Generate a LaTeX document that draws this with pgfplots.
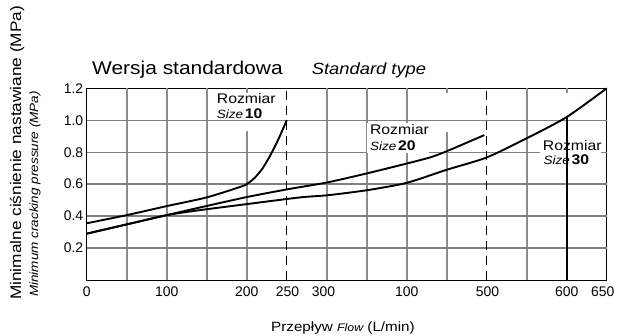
\documentclass[border=0pt]{standalone}
\usepackage{fontspec}
\setmainfont{Liberation Sans}
\newfontfamily\wide[FakeStretch=1.13]{Liberation Sans}
\usepackage{pgfplots}
\pgfplotsset{compat=1.18}
\definecolor{gridc}{gray}{0.5}
\definecolor{gridv}{gray}{0.55}

\begin{document}
\begin{tikzpicture}
\useasboundingbox (0,0) rectangle (618bp,336bp);
\begin{axis}[
  at={(86.7bp,56bp)}, anchor=south west, scale only axis,
  width=520bp, height=191.7bp,
  xmin=0, xmax=650, ymin=0, ymax=1.2,
  xtick={0,100,200,251,296,400,501,600,645},
  xticklabels={0,100,200,250,300,100,500,600,650},
  ytick={0.2,0.4,0.6,0.8,1.0,1.2},
  yticklabels={0.2,0.4,0.6,0.8,1.0,1.2},
  major tick length=0pt,
  tick label style={font=\fontsize{14}{16}\selectfont, text=black},
  xticklabel style={yshift=-3bp},
  xtick pos=bottom, ytick pos=left,
  axis line style={black, line width=1bp},
  clip=false,
  /pgf/number format/assume math mode=true,
]
% vertical grid
\draw[gridv, line width=1.7bp] (axis cs:50,0) -- (axis cs:50,1.2);
\draw[gridv, line width=1.7bp] (axis cs:100,0) -- (axis cs:100,1.2);
\draw[gridv, line width=1.7bp] (axis cs:150,0) -- (axis cs:150,1.2);
\draw[gridv, line width=1.7bp] (axis cs:300,0) -- (axis cs:300,1.2);
\draw[gridv, line width=1.7bp] (axis cs:350,0) -- (axis cs:350,1.2);
\draw[gridv, line width=1.7bp] (axis cs:400,0) -- (axis cs:400,1.2);
\draw[gridv, line width=1.7bp] (axis cs:550,0) -- (axis cs:550,1.2);
\draw[gridv, line width=1.7bp] (axis cs:200,0) -- (axis cs:200,0.93);
\draw[gridv, line width=1.7bp] (axis cs:200,1.17) -- (axis cs:200,1.2);
\draw[gridv, line width=1.7bp] (axis cs:450,0) -- (axis cs:450,0.925);
\draw[gridv, line width=1.7bp] (axis cs:450,1.17) -- (axis cs:450,1.2);
\draw[gridv, line width=1.7bp] (axis cs:600,1.17) -- (axis cs:600,1.2);
% horizontal grid
\pgfplotsinvokeforeach{0.2,0.4,0.6,0.8,1.0}{
  \addplot[gridc, line width=1.3bp, forget plot] coordinates {(0,#1) (650,#1)};
}
% max flow lines
\addplot[black, line width=1.3bp, dash pattern=on 9bp off 6bp] coordinates {(250,0) (250,1.2)};
\addplot[black, line width=1.3bp, dash pattern=on 9bp off 6bp] coordinates {(500,0) (500,1.2)};
% curves
\addplot[black, line width=1.9bp, smooth, tension=0.45] coordinates {
  (0,0.355) (50,0.406) (100,0.4625) (150,0.517) (192,0.583) (200,0.6)
  (210,0.64) (220,0.70) (230,0.785) (240,0.885) (250,1.0)};
\addplot[black, line width=1.9bp, smooth, tension=0.4] coordinates {
  (0,0.29) (50,0.348) (100,0.406) (141.6,0.454) (200,0.519) (250,0.567)
  (300,0.61) (350,0.667) (400,0.729) (429,0.767) (450,0.806) (497,0.907)};
\addplot[black, line width=1.9bp, smooth, tension=0.4] coordinates {
  (0,0.29) (50,0.348) (100,0.406) (141.6,0.4375) (200,0.475) (266.6,0.517)
  (302,0.531) (351,0.5625) (400,0.608) (450,0.69) (500,0.767) (550,0.887)
  (600,1.02) (650,1.2)};
% labels
\fill[white] (axis cs:350,0.795) rectangle (axis cs:428,0.985);
\fill[white] (axis cs:567,0.72) rectangle (axis cs:643,0.885);
\node[anchor=base west, inner sep=0, font=\wide\fontsize{14}{16}\selectfont] at (axis cs:162.5,1.106) {Rozmiar};
\node[anchor=base west, inner sep=0] at (axis cs:162.5,1.01) {{\wide\itshape\fontsize{12}{13}\selectfont Size}\,{\wide\bfseries\fontsize{14}{16}\selectfont 10}};
\node[anchor=base west, inner sep=0, font=\wide\fontsize{14}{16}\selectfont] at (axis cs:354,0.908) {Rozmiar};
\node[anchor=base west, inner sep=0] at (axis cs:354,0.8125) {{\wide\itshape\fontsize{12}{13}\selectfont Size}\,{\wide\bfseries\fontsize{14}{16}\selectfont 20}};
\node[anchor=base west, inner sep=0, font=\wide\fontsize{14}{16}\selectfont] at (axis cs:570,0.808) {Rozmiar};
\node[anchor=base west, inner sep=0] at (axis cs:571,0.725) {{\wide\itshape\fontsize{12}{13}\selectfont Size}\,{\wide\bfseries\fontsize{14}{16}\selectfont 30}};
\addplot[black, line width=1.6bp] coordinates {(600,0) (600,1.02)};
\end{axis}
\node[anchor=base west, inner sep=0, font=\wide\fontsize{18.6}{20}\selectfont] at (92bp,261bp) {Wersja standardowa};
\node[anchor=base west, inner sep=0, font=\wide\itshape\fontsize{16.3}{18}\selectfont] at (311.7bp,261bp) {Standard type};
\node[anchor=base west, inner sep=0] at (271bp,4.3bp) {\wide\fontsize{13.5}{15}\selectfont Przepływ {\itshape\fontsize{11}{13}\selectfont Flow} (L/min)};
\node[rotate=90, anchor=base west, inner sep=0, font=\wide\fontsize{15.3}{17}\selectfont] at (21bp,36bp) {Minimalne ciśnienie nastawiane (MPa)};
\node[rotate=90, anchor=base west, inner sep=0, font=\wide\itshape\fontsize{12}{14}\selectfont] at (38bp,39bp) {Minimum cracking pressure (MPa)};
\end{tikzpicture}
\end{document}
